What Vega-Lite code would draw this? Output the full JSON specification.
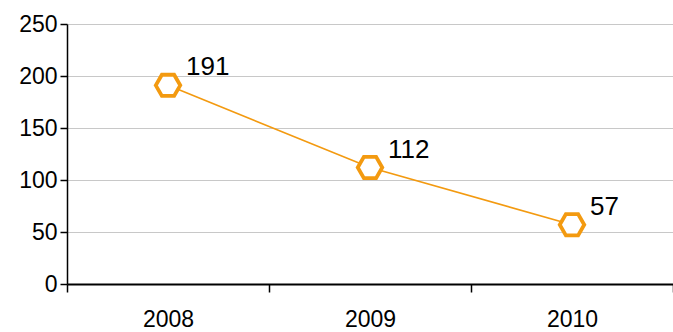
{
  "$schema": "https://vega.github.io/schema/vega-lite/v6.json",
  "width": 606,
  "height": 260,
  "autosize": {"type": "none"},
  "padding": {"left": 67, "top": 24, "right": 0, "bottom": 48},
  "background": "white",
  "config": {
    "view": {"stroke": null},
    "font": "Liberation Sans"
  },
  "data": {
    "values": [
      {"year": "2008", "value": 191},
      {"year": "2009", "value": 112},
      {"year": "2010", "value": 57}
    ]
  },
  "encoding": {
    "x": {
      "field": "year",
      "type": "nominal",
      "sort": null,
      "scale": {"paddingInner": 0, "paddingOuter": 0},
      "axis": {
        "title": null,
        "labelAngle": 0,
        "labelFontSize": 23,
        "labelColor": "black",
        "labelPadding": 16,
        "domainColor": "black",
        "domainWidth": 2,
        "tickColor": "black",
        "tickWidth": 1.5,
        "tickSize": 8,
        "tickBand": "extent",
        "grid": false
      }
    },
    "y": {
      "field": "value",
      "type": "quantitative",
      "scale": {"domain": [0, 250], "nice": false},
      "axis": {
        "title": null,
        "values": [0, 50, 100, 150, 200, 250],
        "labelFontSize": 23,
        "labelColor": "black",
        "labelPadding": 3,
        "domainColor": "black",
        "domainWidth": 1.5,
        "tickColor": "black",
        "tickWidth": 1.5,
        "tickSize": 7,
        "grid": true,
        "gridColor": "#c8c8c8",
        "gridWidth": 1.2
      }
    }
  },
  "layer": [
    {
      "mark": {"type": "line", "color": "#f39a10", "strokeWidth": 1.6}
    },
    {
      "mark": {
        "type": "point",
        "shape": "M -1 0 L -0.5 -0.866 L 0.5 -0.866 L 1 0 L 0.5 0.866 L -0.5 0.866 Z",
        "size": 600,
        "filled": true,
        "fill": "white",
        "stroke": "#f39a10",
        "strokeWidth": 3.8,
        "opacity": 1
      }
    },
    {
      "mark": {
        "type": "text",
        "align": "left",
        "baseline": "middle",
        "dx": 18,
        "dy": -18,
        "fontSize": 26,
        "color": "black"
      },
      "encoding": {"text": {"field": "value", "type": "quantitative"}}
    }
  ]
}
